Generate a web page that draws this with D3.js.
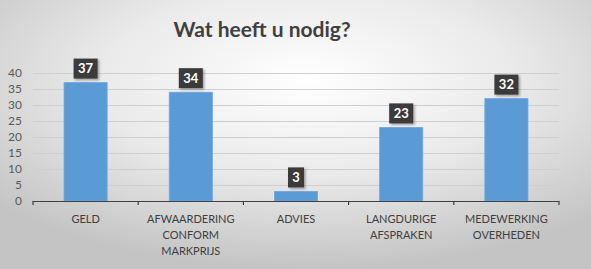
<!DOCTYPE html>
<html>
<head>
<meta charset="utf-8">
<script src="https://cdn.jsdelivr.net/npm/d3@7"></script>
<style>
	body { margin: 0; }
	svg { display: block; }
</style>
</head>
<body>
<div id="chart"></div>
<script>
var categories = ["GELD", "AFWAARDERING CONFORM MARKPRIJS", "ADVIES", "LANGDURIGE AFSPRAKEN", "MEDEWERKING OVERHEDEN"],
	labelLines = [["GELD"], ["AFWAARDERING", "CONFORM", "MARKPRIJS"], ["ADVIES"], ["LANGDURIGE", "AFSPRAKEN"], ["MEDEWERKING", "OVERHEDEN"]],
	values = [37, 34, 3, 23, 32],
	yTicks = [0, 5, 10, 15, 20, 25, 30, 35, 40];

var w = 591,
	h = 269,
	plotLeft = 33,
	plotRight = 559,
	plotTop = 73,
	plotBottom = 201;

var svg = d3.select("#chart")
	.append("svg")
	.attr("width", w)
	.attr("height", h);

// background: light in the middle, grey to the edges
var defs = svg.append("defs");
var grad = defs.append("radialGradient")
	.attr("id", "bg")
	.attr("cx", "52%").attr("cy", "30%").attr("r", "70%");
grad.append("stop").attr("offset", "0%").attr("stop-color", "#ffffff");
grad.append("stop").attr("offset", "50%").attr("stop-color", "#eaeaea");
grad.append("stop").attr("offset", "100%").attr("stop-color", "#c4c4c4");

var shadow = defs.append("filter").attr("id", "shadow")
	.attr("x", "-30%").attr("y", "-30%").attr("width", "160%").attr("height", "160%");
shadow.append("feDropShadow")
	.attr("dx", 1.5).attr("dy", 1.5).attr("stdDeviation", 1.2)
	.attr("flood-color", "#000").attr("flood-opacity", 0.35);

svg.append("rect")
	.attr("width", w)
	.attr("height", h)
	.style("fill", "url(#bg)");

svg.append("text")
	.attr("x", 262)
	.attr("y", 37)
	.attr("text-anchor", "middle")
	.style("font-family", "Lato, 'Open Sans', sans-serif")
	.style("font-weight", "bold")
	.style("font-size", "21px")
	.style("fill", "#404040")
	.text("Wat heeft u nodig?");

var x = d3.scaleBand()
	.domain(categories)
	.range([plotLeft, plotRight])
	.paddingInner(0.59)
	.paddingOuter(0.295);

var y = d3.scaleLinear()
	.domain([0, 40])
	.range([plotBottom, plotTop]);

// gridlines
svg.selectAll(".grid")
	.data(yTicks.filter(function(d) { return d > 0; }))
	.enter().append("line")
	.attr("class", "grid")
	.attr("x1", plotLeft)
	.attr("x2", plotRight)
	.attr("y1", function(d) { return y(d) + 0.5; })
	.attr("y2", function(d) { return y(d) + 0.5; })
	.style("stroke", "#cfcfcf")
	.style("stroke-width", 1);

// y labels
svg.selectAll(".ylab")
	.data(yTicks)
	.enter().append("text")
	.attr("class", "ylab")
	.attr("x", 22)
	.attr("y", function(d) { return y(d); })
	.attr("dy", "0.35em")
	.attr("text-anchor", "end")
	.style("font-family", "Lato, 'Open Sans', sans-serif")
	.style("font-size", "12px")
	.style("fill", "#595959")
	.text(function(d) { return d; });

// bars
svg.selectAll(".bar")
	.data(values)
	.enter().append("rect")
	.attr("class", "bar")
	.attr("x", function(d, i) { return x(categories[i]); })
	.attr("width", x.bandwidth())
	.attr("y", function(d) { return y(d); })
	.attr("height", function(d) { return y(0) - y(d); })
	.style("fill", "#5b9bd5")
	.style("stroke", "#6fa8dc")
	.style("stroke-width", 0.8);

// x axis with ticks between categories
var step = x.step();
svg.append("line")
	.attr("x1", plotLeft).attr("x2", plotRight)
	.attr("y1", plotBottom + 0.5).attr("y2", plotBottom + 0.5)
	.style("stroke", "#404040")
	.style("stroke-width", 1.2);

svg.selectAll(".xtick")
	.data(d3.range(categories.length + 1))
	.enter().append("line")
	.attr("class", "xtick")
	.attr("x1", function(d) { return plotLeft + d * step; })
	.attr("x2", function(d) { return plotLeft + d * step; })
	.attr("y1", plotBottom)
	.attr("y2", plotBottom + 4)
	.style("stroke", "#404040")
	.style("stroke-width", 1.2);

// category labels
var xl = svg.selectAll(".xlab")
	.data(categories)
	.enter().append("text")
	.attr("class", "xlab")
	.attr("x", function(d) { return x(d) + x.bandwidth() / 2; })
	.attr("y", 223)
	.attr("text-anchor", "middle")
	.style("font-family", "Lato, 'Open Sans', sans-serif")
	.style("font-size", "11px")
	.style("fill", "#404040");

xl.selectAll("tspan")
	.data(function(d, i) { return labelLines[i]; })
	.enter().append("tspan")
	.attr("x", function() { return d3.select(this.parentNode).attr("x"); })
	.attr("dy", function(d, i) { return i == 0 ? 0 : 16; })
	.text(function(d) { return d; });

// value callouts
var tags = svg.selectAll(".tag")
	.data(values)
	.enter().append("g")
	.attr("class", "tag")
	.attr("transform", function(d, i) {
		return "translate(" + (x(categories[i]) + x.bandwidth() / 2) + "," + (y(d) - 14) + ")";
	});

tags.append("rect")
	.attr("x", function(d) { return String(d).length > 1 ? -12 : -8; })
	.attr("width", function(d) { return String(d).length > 1 ? 24 : 16; })
	.attr("y", -10)
	.attr("height", 20)
	.attr("filter", "url(#shadow)")
	.style("fill", "#3a3a3a");

tags.append("text")
	.attr("text-anchor", "middle")
	.attr("dy", "0.36em")
	.style("font-family", "Lato, 'Open Sans', sans-serif")
	.style("font-weight", "bold")
	.style("font-size", "13px")
	.style("fill", "#ffffff")
	.text(function(d) { return d; });
</script>
</body>
</html>
